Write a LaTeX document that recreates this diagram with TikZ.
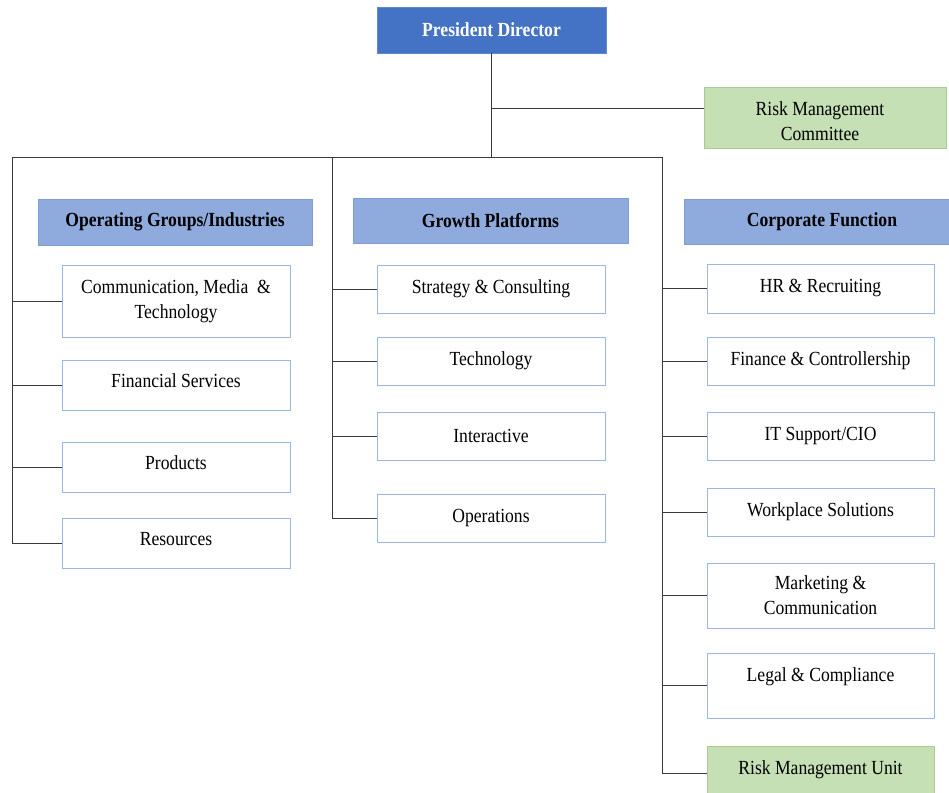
\documentclass[tikz,border=0pt]{standalone}
\usepackage{fontspec}
\setmainfont{Liberation Serif}[FakeStretch=0.88]
\definecolor{topblue}{HTML}{4472C4}
\definecolor{headblue}{HTML}{8FAADC}
\definecolor{headedge}{HTML}{7F9CD4}
\definecolor{unitedge}{HTML}{9DB7E4}
\definecolor{riskgreen}{HTML}{C5E0B4}
\definecolor{riskedge}{HTML}{A9CB92}
\definecolor{linegray}{HTML}{3A3A3A}
\begin{document}
\begin{tikzpicture}[x=1pt,y=-1pt,
  every node/.style={font=\fontsize{20}{25}\selectfont, align=center, inner sep=0pt},
  topbox/.style={draw=topblue!85!white, fill=topblue, text=white, font=\fontsize{20}{25}\selectfont\bfseries, line width=0.8pt},
  headbox/.style={draw=headedge, fill=headblue, font=\fontsize{20}{25}\selectfont\bfseries, line width=0.8pt},
  unitbox/.style={draw=unitedge, fill=white, line width=0.8pt},
  raised/.style={text height=13pt, text depth=9pt},
  riskbox/.style={draw=riskedge, fill=riskgreen, line width=0.8pt},
  conn/.style={draw=linegray, line width=0.7pt}]
\useasboundingbox (0,0) rectangle (949,792);
\clip (0,0) rectangle (949,792);

% top of the chart
\node[topbox, minimum width=229pt, minimum height=46pt] (pres) at (491.5,30) {President Director};
\node[riskbox, minimum width=242pt, minimum height=61pt] (rmc) at (825,117.5) {};
\node (rmctext) at (820,121) {Risk Management\\Committee};
\coordinate (rmcin) at (704,108);

% group headers
\node[headbox, minimum width=274pt, minimum height=46pt] (og) at (175,222) {Operating Groups/Industries};
\node[headbox, minimum width=275pt, minimum height=45pt] (gp) at (490.5,220.5) {Growth Platforms};
\node[headbox, minimum width=276pt, minimum height=45pt] (cf) at (822,221.5) {Corporate Function};

% operating groups
\node[unitbox, minimum width=228pt, minimum height=72pt] (cmt) at (176,301) {Communication, Media~~\&\\Technology};
\node[unitbox, raised, minimum width=228pt, minimum height=50pt] (fin) at (176,385) {Financial Services};
\node[unitbox, raised, minimum width=228pt, minimum height=50pt] (prod) at (176,467) {Products};
\node[unitbox, raised, minimum width=228pt, minimum height=50pt] (res) at (176,543) {Resources};

% growth platforms
\node[unitbox, minimum width=228pt, minimum height=48pt] (strat) at (491,289) {Strategy \& Consulting};
\node[unitbox, minimum width=228pt, minimum height=48pt] (tech) at (491,361) {Technology};
\node[unitbox, minimum width=228pt, minimum height=48pt] (inter) at (491,436) {Interactive};
\node[unitbox, minimum width=228pt, minimum height=48pt] (ops) at (491,518) {Operations};

% corporate functions
\node[unitbox, minimum width=227pt, minimum height=49pt] (hr) at (820.5,288.5) {HR \& Recruiting};
\node[unitbox, minimum width=227pt, minimum height=48pt] (finc) at (820.5,361) {Finance \& Controllership};
\node[unitbox, minimum width=227pt, minimum height=48pt] (it) at (820.5,436) {IT Support/CIO};
\node[unitbox, minimum width=227pt, minimum height=48pt] (work) at (820.5,512) {Workplace Solutions};
\node[unitbox, minimum width=227pt, minimum height=65pt] (mkt) at (820.5,595.5) {Marketing \&\\Communication};
\node[unitbox, minimum width=227pt, minimum height=65pt] (legal) at (820.5,685.5) {};
\node (legaltext) at (820.5,677) {Legal \& Compliance};
\node[riskbox, minimum width=227pt, minimum height=54pt] (rmu) at (820.5,773) {};
\node (rmutext) at (820.5,770) {Risk Management Unit};

% bus lines
\coordinate (hub) at (491.5,157);
\coordinate (busL) at (12,157);
\coordinate (busM) at (332,157);
\coordinate (busR) at (662,157);

\draw[conn] (pres.south) -- (hub);
\draw[conn] (pres.south |- rmcin) -- (rmcin);
\draw[conn] (busL |- res.west) -- (busL) -- (busR) -- (busR |- rmu.west) -- (rmu.west);
\draw[conn] (busL |- res.west) -- (res.west);
\draw[conn] (busM) -- (busM |- ops.west) -- (ops.west);

% branches to the units
\draw[conn] (busL |- cmt.west) -- (cmt.west);
\draw[conn] (busL |- fin.west) -- (fin.west);
\draw[conn] (busL |- prod.west) -- (prod.west);
\draw[conn] (busM |- strat.west) -- (strat.west);
\draw[conn] (busM |- tech.west) -- (tech.west);
\draw[conn] (busM |- inter.west) -- (inter.west);
\draw[conn] (busR |- hr.west) -- (hr.west);
\draw[conn] (busR |- finc.west) -- (finc.west);
\draw[conn] (busR |- it.west) -- (it.west);
\draw[conn] (busR |- work.west) -- (work.west);
\draw[conn] (busR |- mkt.west) -- (mkt.west);
\draw[conn] (busR |- legal.west) -- (legal.west);
\end{tikzpicture}
\end{document}
